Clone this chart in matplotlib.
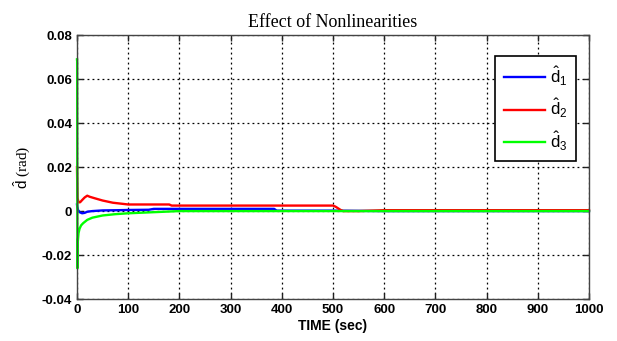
import matplotlib
matplotlib.use("Agg")
import matplotlib.pyplot as plt

# data
t1 = [0, 0.5, 2, 5, 10, 15, 20, 30, 50, 80, 100, 140, 150, 385, 390, 500, 600, 1000]
d1 = [0.003, 0.002, 0.0005, -0.0005, -0.001, -0.0008, -0.0003, 0.0, 0.0003, 0.0004, 0.0005, 0.0006, 0.001, 0.001, 0.0002, 0.0002, 0.0, 0.0]

t2 = [0, 0.3, 1, 3, 6, 10, 15, 20, 25, 35, 50, 70, 100, 180, 185, 500, 505, 515, 520, 550, 600, 1000]
d2 = [0.02, 0.015, 0.006, 0.004, 0.004, 0.005, 0.0062, 0.007, 0.0065, 0.0058, 0.0048, 0.0038, 0.003, 0.003, 0.0025, 0.0025, 0.002, 0.0005, 0.0, 0.0, 0.0004, 0.0004]

t3 = [0, 0.3, 0.8, 1.5, 3, 5, 8, 12, 20, 30, 50, 75, 100, 150, 200, 1000]
d3 = [0.069, 0.069, -0.026, -0.014, -0.01, -0.008, -0.0065, -0.0055, -0.004, -0.003, -0.002, -0.0014, -0.001, -0.0005, 0.0, 0.0]

xticks = [0, 100, 200, 300, 400, 500, 600, 700, 800, 900, 1000]
yticks = [-0.04, -0.02, 0, 0.02, 0.04, 0.06, 0.08]
yticklabels = ["-0.04", "-0.02", "0", "0.02", "0.04", "0.06", "0.08"]

plt.rcParams["mathtext.fontset"] = "custom"
plt.rcParams["mathtext.rm"] = "Liberation Sans"
plt.rcParams["mathtext.it"] = "Liberation Sans"
plt.rcParams["mathtext.bf"] = "Liberation Sans:bold"

fig = plt.figure(figsize=(6.17, 3.41), dpi=100)
ax = fig.add_axes([0.1248, 0.123, 0.8298, 0.774])

ax.plot(t1, d1, color="#0000ff", lw=1.7, label=r"$\hat{\mathrm{d}}_1$", clip_on=False)
ax.plot(t2, d2, color="#ff0000", lw=1.7, label=r"$\hat{\mathrm{d}}_2$", clip_on=False)
ax.plot(t3, d3, color="#00ff00", lw=1.7, label=r"$\hat{\mathrm{d}}_3$", clip_on=False)

ax.set_xlim(0, 1000)
ax.set_ylim(-0.04, 0.08)
ax.set_xticks(xticks)
ax.set_yticks(yticks)
ax.set_yticklabels(yticklabels)
ax.grid(True, color="black", linestyle=(0, (1.5, 2.5)), linewidth=0.9)
ax.tick_params(direction="in", top=True, right=True, length=4, width=1, colors="#222222")
for lab in ax.get_xticklabels() + ax.get_yticklabels():
    lab.set_fontfamily("Liberation Sans")
    lab.set_fontweight("bold")
    lab.set_fontsize(9.5)
    lab.set_color("black")
for s in ax.spines.values():
    s.set_color("#444444")
    s.set_linewidth(1.0)

ax.set_title("Effect of Nonlinearities", fontfamily="Liberation Serif", fontsize=13, pad=6)
ax.set_xlabel("TIME (sec)", fontfamily="Liberation Sans", fontweight="bold", fontsize=10, labelpad=2)
ax.set_ylabel(r"$\hat{\mathrm{d}}$" + " (rad)", fontfamily="Liberation Serif", fontsize=11, labelpad=6)

leg = ax.legend(loc="upper right", bbox_to_anchor=(0.975, 0.92), fancybox=False,
                edgecolor="black", framealpha=1, fontsize=12, handlelength=2.5,
                labelspacing=0.55, borderpad=0.5, handletextpad=0.3, borderaxespad=0)
leg.get_frame().set_linewidth(1.2)

fig.savefig("out.png", dpi=100)
